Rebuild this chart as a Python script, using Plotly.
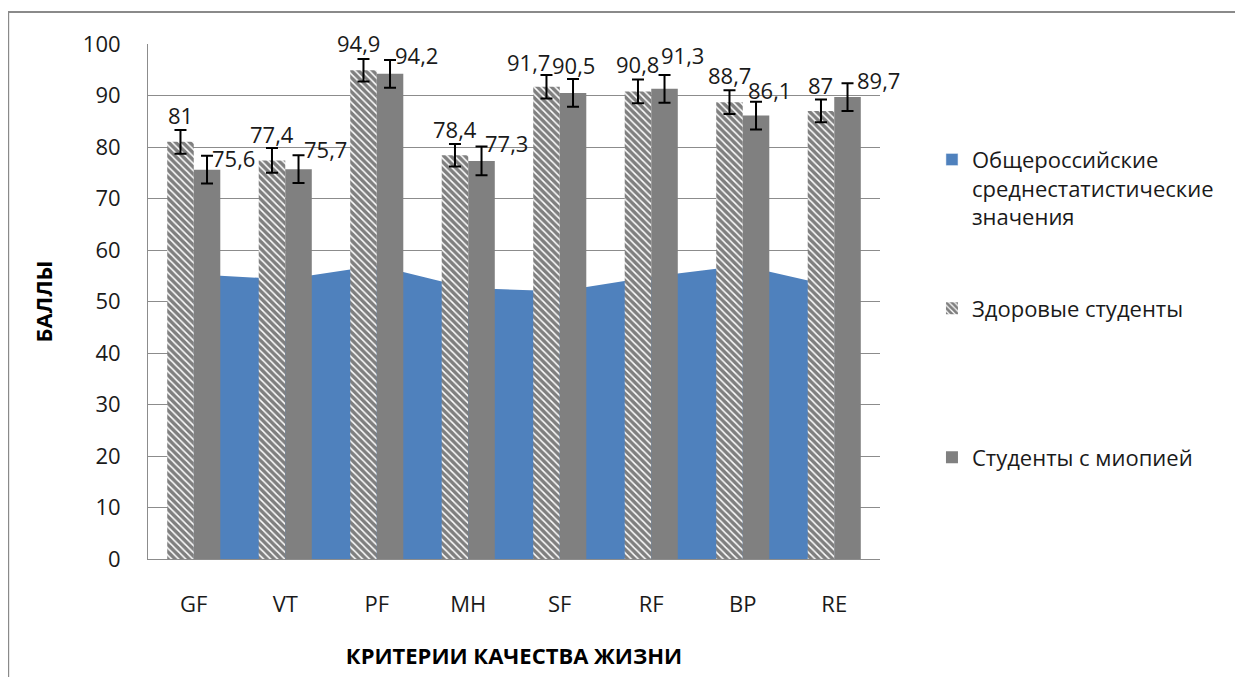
import plotly.graph_objects as go

categories = ["GF", "VT", "PF", "MH", "SF", "RF", "BP", "RE"]
norm_values = [55.3, 54.3, 57.0, 52.6, 52.0, 54.8, 57.0, 52.9]
healthy_values = [81, 77.4, 94.9, 78.4, 91.7, 90.8, 88.7, 87]
healthy_err = [2.3, 2.4, 2.2, 2.2, 2.3, 2.3, 2.3, 2.2]
myopia_values = [75.6, 75.7, 94.2, 77.3, 90.5, 91.3, 86.1, 89.7]
myopia_err = [2.7, 2.7, 2.7, 2.8, 2.7, 2.7, 2.7, 2.7]
y_ticks = [0, 10, 20, 30, 40, 50, 60, 70, 80, 90, 100]

name_norm = "Общероссийские<br>среднестатистические<br>значения"
name_healthy = "Здоровые студенты"
name_myopia = "Студенты с миопией"

# label nudges in px (x, y above bar top), hand-placed in the original
healthy_lbl_dx = [0, 0, -5, 0, -18, 0, 0, 0]
healthy_lbl_dy = [27, 26, 27, 26, 25, 27, 27, 26]
myopia_lbl_dx = [26, 27, 26, 25, 0, 18, 13, 31]
myopia_lbl_dy = [12, 20, 19, 18, 28, 34, 26, 17]

FONT = "Open Sans"
TXT = "#1a1a1a"
GRID = "#8c8c8c"
BLUE = "#4F81BD"

x_pos = list(range(len(categories)))
bar_w = 0.29


def fmt(v):
    s = ("%g" % v)
    return s.replace(".", ",")


fig = go.Figure()

# area sits on the base axes so the bars (on overlay axes) are drawn over it
fig.add_trace(go.Scatter(
    x=x_pos, y=norm_values, name=name_norm, mode="none",
    fill="tozeroy", fillcolor=BLUE, showlegend=False,
))
# square legend swatch for the area series (Excel style)
fig.add_trace(go.Bar(
    x=[None], y=[None], name=name_norm, marker=dict(color=BLUE),
    xaxis="x2", yaxis="y2", legend="legend", showlegend=True,
))

fig.add_trace(go.Bar(
    x=x_pos, y=healthy_values, name=name_healthy, width=bar_w, offset=-bar_w,
    marker=dict(color="white", line=dict(width=0),
                pattern=dict(shape="\\", fgcolor="black", bgcolor="white", size=5, solidity=0.7)),
    error_y=dict(type="data", array=healthy_err, color="black", thickness=2, width=6),
    xaxis="x2", yaxis="y2", legend="legend2",
))
fig.add_trace(go.Bar(
    x=x_pos, y=myopia_values, name=name_myopia, width=bar_w, offset=0,
    marker=dict(color="#808080", line=dict(width=0)),
    error_y=dict(type="data", array=myopia_err, color="black", thickness=2, width=6),
    xaxis="x2", yaxis="y2", legend="legend3",
))

for i in x_pos:
    fig.add_annotation(x=i - bar_w / 2, y=healthy_values[i], text=fmt(healthy_values[i]),
                       xref="x2", yref="y2", showarrow=False, yanchor="middle",
                       xshift=healthy_lbl_dx[i], yshift=healthy_lbl_dy[i],
                       font=dict(family=FONT, size=22, color=TXT))
    fig.add_annotation(x=i + bar_w / 2, y=myopia_values[i], text=fmt(myopia_values[i]),
                       xref="x2", yref="y2", showarrow=False, yanchor="middle",
                       xshift=myopia_lbl_dx[i], yshift=myopia_lbl_dy[i],
                       font=dict(family=FONT, size=22, color=TXT))

xrange = [-0.5, len(categories) - 0.5]
yrange = [0, 100]

# page body has an 8px margin, so the figure is sized to fit the window
fig.update_layout(
    width=1235, height=669,
    margin=dict(l=140, r=363, t=36, b=115),
    showlegend=True,
    paper_bgcolor="white", plot_bgcolor="white",
    font=dict(family=FONT, size=22, color=TXT),
    bargap=0.42,
    xaxis=dict(range=xrange, tickvals=x_pos, ticktext=categories, showgrid=False,
               showline=True, linecolor=GRID, linewidth=1, ticks="", ticklabelstandoff=26,
               zeroline=False,
               title=dict(text="<b>КРИТЕРИИ КАЧЕСТВА ЖИЗНИ</b>", standoff=31,
                          font=dict(family=FONT, size=22, color="black"))),
    yaxis=dict(range=yrange, tickvals=y_ticks, showgrid=True, gridcolor=GRID, gridwidth=1,
               showline=True, linecolor=GRID, linewidth=1, ticks="", ticklabelstandoff=22,
               zeroline=False,
               title=dict(text="<b>БАЛЛЫ</b>", standoff=24,
                          font=dict(family=FONT, size=22, color="black"))),
    xaxis2=dict(range=xrange, overlaying="x", visible=False),
    yaxis2=dict(range=yrange, overlaying="y", visible=False),
    legend=dict(x=1.071, y=0.72, xanchor="left", yanchor="middle", valign="top",
                font=dict(family=FONT, size=22, color=TXT), bgcolor="rgba(0,0,0,0)"),
    legend2=dict(x=1.071, y=0.4865, xanchor="left", yanchor="middle",
                 font=dict(family=FONT, size=22, color=TXT), bgcolor="rgba(0,0,0,0)"),
    legend3=dict(x=1.071, y=0.197, xanchor="left", yanchor="middle",
                 font=dict(family=FONT, size=22, color=TXT), bgcolor="rgba(0,0,0,0)"),
    shapes=[dict(type="rect", xref="paper", yref="paper",
                 x0=-0.191, x1=1.5, y0=-0.3, y1=1.062,
                 line=dict(color="#8a8a8a", width=2), fillcolor="rgba(0,0,0,0)", layer="below")],
)

fig.write_html("out.html")
